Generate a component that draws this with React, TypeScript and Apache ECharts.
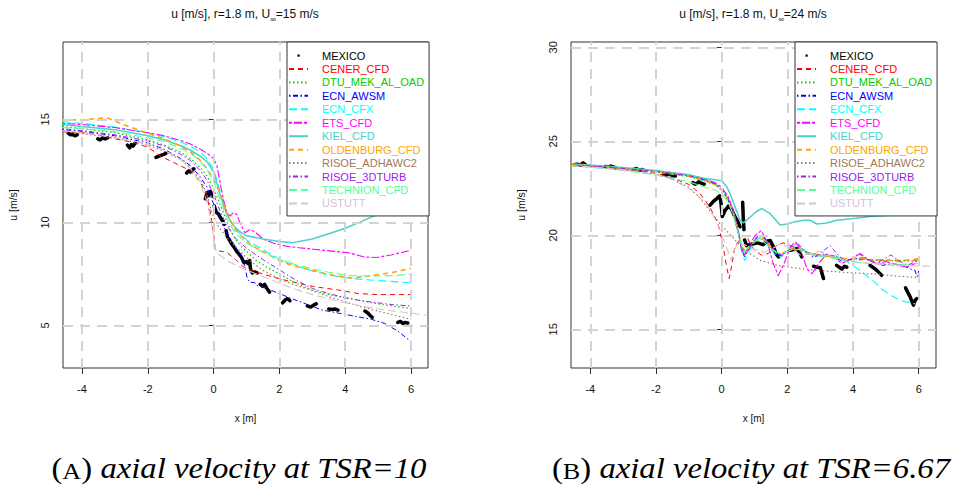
import React, { useEffect, useRef } from 'react';
import * as echarts from 'echarts';

// ---------------- axis ticks ----------------
const X_TICKS = [-4, -2, 0, 2, 4, 6];
const Y_TICKS_L = [5, 10, 15];
const Y_TICKS_R = [15, 20, 25, 30];

// ---------------- series names ----------------
const MODEL_NAMES = [
  'CENER_CFD', 'DTU_MEK_AL_OAD', 'ECN_AWSM', 'ECN_CFX', 'ETS_CFD', 'KIEL_CFD',
  'OLDENBURG_CFD', 'RISOE_ADHAWC2', 'RISOE_3DTURB', 'TECHNION_CFD', 'USTUTT',
];

// ---------------- left panel: TSR=10, U∞=15 m/s ----------------
const mexicoL = [
  [[-4.42, 14.32], [-4.35, 14.25], [-4.3, 14.28], [-4.22, 14.2], [-4.15, 14.25]],
  [[-3.52, 14.05], [-3.45, 14.0], [-3.38, 14.1], [-3.3, 14.05], [-3.22, 14.1]],
  [[-2.62, 13.75], [-2.55, 13.62], [-2.5, 13.78], [-2.45, 13.7], [-2.38, 13.85]],
  [[-1.75, 13.15], [-1.68, 13.2], [-1.6, 13.25], [-1.52, 13.3], [-1.45, 13.35]],
  [[-0.82, 12.4], [-0.76, 12.5], [-0.7, 12.45], [-0.65, 12.55], [-0.6, 12.6]],
  [[-0.25, 11.15], [-0.2, 11.45], [-0.15, 11.3], [-0.1, 11.5], [-0.05, 11.4], [0, 11.25]],
  [[0.02, 10.8], [0.08, 10.5], [0.15, 10.4], [0.22, 10.2], [0.28, 10.05], [0.32, 9.9]],
  [[0.38, 9.6], [0.42, 9.3], [0.5, 9.1], [0.55, 8.95], [0.62, 8.8], [0.7, 8.6], [0.78, 8.45], [0.85, 8.3],
    [0.92, 8.05], [1.0, 8.1], [1.05, 8.0], [1.1, 8.15], [1.12, 7.75], [1.18, 7.55], [1.25, 7.6], [1.32, 7.55]],
  [[1.42, 7.0], [1.5, 6.9], [1.55, 7.0], [1.62, 6.8], [1.7, 6.62]],
  [[2.1, 6.1], [2.18, 6.25], [2.25, 6.3], [2.32, 6.2]],
  [[2.85, 5.95], [2.95, 5.9], [3.05, 6.0], [3.12, 6.05]],
  [[3.5, 5.8], [3.6, 5.78], [3.7, 5.8], [3.78, 5.75]],
  [[4.6, 5.7], [4.68, 5.62], [4.75, 5.5], [4.82, 5.4]],
  [[5.6, 5.15], [5.68, 5.2], [5.75, 5.1], [5.82, 5.15], [5.9, 5.12]],
];
const cenerL = [[-4.6, 14.4], [-4, 14.35], [-3.5, 14.25], [-3, 14.05], [-2.5, 13.9], [-2, 13.65], [-1.6, 13.2], [-1.2, 12.9], [-0.7, 12.5], [-0.4, 11.95], [-0.2, 11.25], [-0.1, 10.5], [0, 9.5], [0.06, 8.65], [0.4, 8.55], [0.7, 8.15], [0.9, 7.85], [1.3, 7.6], [1.8, 7.35], [2.3, 7.15], [3, 6.9], [3.8, 6.72], [4.4, 6.55], [5, 6.5], [6, 6.5]];
const dtuL = [[-4.6, 14.65], [-4, 14.55], [-3, 14.35], [-2, 14.0], [-1.5, 13.75], [-1, 13.4], [-0.7, 13.1], [-0.4, 12.65], [-0.2, 12.25], [0, 11.65], [0.2, 10.85], [0.4, 10.05], [0.6, 9.35], [0.8, 8.9], [1, 8.6], [1.3, 8.15], [1.6, 7.85], [2, 7.5], [2.5, 7.05], [3, 6.72], [3.5, 6.5], [4, 6.35], [4.5, 6.2], [5, 6.05], [5.5, 5.93], [6, 5.82]];
const awsmL = [[-4.6, 14.5], [-4, 14.42], [-3, 14.2], [-2, 13.85], [-1.5, 13.55], [-1, 13.1], [-0.7, 12.75], [-0.4, 12.2], [-0.2, 11.7], [0, 10.9], [0.2, 10.15], [0.4, 9.5], [0.65, 8.85], [0.85, 8.37], [0.95, 7.9], [1.02, 7.3], [1.1, 7.1], [1.25, 7.08], [1.3, 6.95], [1.6, 6.8], [2, 6.55], [2.3, 6.35], [2.8, 6.05], [3.3, 5.75], [3.8, 5.6], [4.3, 5.45], [4.8, 5.3], [5.2, 5.1], [5.6, 4.73], [6, 4.22]];
const cfxL = [[-4.6, 14.88], [-4, 14.8], [-3, 14.62], [-2, 14.35], [-1.5, 14.15], [-1, 13.9], [-0.7, 13.7], [-0.4, 13.4], [-0.2, 13.1], [0, 12.6], [0.2, 11.5], [0.4, 10.4], [0.65, 9.7], [1, 9.15], [1.5, 8.68], [2, 8.22], [2.5, 7.9], [3, 7.65], [3.5, 7.45], [4, 7.32], [4.5, 7.24], [5, 7.18], [5.5, 7.13], [6, 7.07]];
const etsL = [[-4.6, 14.8], [-4, 14.75], [-3, 14.6], [-2, 14.35], [-1.5, 14.2], [-1, 13.97], [-0.7, 13.8], [-0.4, 13.55], [-0.2, 13.35], [0, 13.1], [0.1, 12.75], [0.2, 11.9], [0.3, 11.1], [0.4, 10.5], [0.5, 10.3], [0.6, 10.47], [0.7, 10.4], [0.8, 10.0], [0.95, 9.5], [1.1, 9.66], [1.25, 9.55], [1.5, 9.2], [1.8, 9.0], [2.2, 8.85], [2.6, 8.77], [3.1, 8.69], [3.6, 8.61], [4.1, 8.53], [4.6, 8.32], [4.95, 8.3], [5.4, 8.42], [6, 8.65]];
const kielL = [[-4.6, 14.75], [-4, 14.65], [-3, 14.5], [-2, 14.2], [-1.5, 14.0], [-1, 13.72], [-0.7, 13.5], [-0.4, 13.2], [-0.2, 12.95], [0, 12.45], [0.2, 11.35], [0.4, 10.4], [0.6, 9.85], [0.8, 9.55], [1, 9.35], [1.5, 9.2], [2, 9.08], [2.4, 9.02], [3, 9.2], [3.5, 9.45], [4, 9.72], [4.5, 10.05], [5, 10.4], [5.5, 10.75], [6, 11.1]];
const oldL = [[-4.6, 14.95], [-4, 14.98], [-3.6, 15.03], [-3.25, 15.08], [-3, 14.92], [-2.7, 14.72], [-2.3, 14.5], [-2, 14.32], [-1.5, 14.05], [-1, 13.7], [-0.7, 13.42], [-0.4, 13.0], [-0.2, 12.6], [0, 12.1], [0.2, 11.4], [0.35, 10.6], [0.65, 9.66], [1.06, 9.0], [1.36, 8.69], [1.6, 8.5], [2, 8.15], [2.3, 7.96], [2.8, 7.75], [3.5, 7.48], [4, 7.33], [4.2, 7.31], [4.65, 7.39], [5.4, 7.56], [6, 7.77]];
const adhawcL = [[-4.6, 14.4], [-4, 14.3], [-3, 14.1], [-2, 13.75], [-1.5, 13.45], [-1, 13.05], [-0.7, 12.65], [-0.4, 12.05], [-0.2, 11.4], [-0.06, 10.5], [0.14, 9.82], [0.45, 9.17], [0.75, 8.69], [1.06, 8.2], [1.46, 7.72], [2, 7.25], [2.5, 6.95], [3, 6.7], [3.5, 6.4], [4, 6.15], [4.5, 5.9], [5, 5.7], [5.5, 5.5], [6, 5.3]];
const turbL = [[-4.6, 14.55], [-4, 14.45], [-3, 14.25], [-2, 13.95], [-1.5, 13.7], [-1, 13.3], [-0.7, 13.0], [-0.4, 12.5], [-0.2, 12.05], [0, 11.35], [0.2, 10.55], [0.4, 9.85], [0.65, 9.25], [1, 8.75], [1.5, 8.2], [2, 7.7], [2.5, 7.2], [3, 6.8], [3.5, 6.55], [4, 6.35], [4.5, 6.2], [5, 6.1], [5.5, 6.0], [6, 5.95]];
const technionL = [[-4.6, 14.6], [-4, 14.55], [-3, 14.4], [-2, 14.1], [-1.5, 13.9], [-1, 13.6], [-0.7, 13.35], [-0.4, 12.95], [-0.2, 12.55], [0, 12.0], [0.2, 11.1], [0.4, 10.2], [0.65, 9.5], [1, 9.0], [1.5, 8.55], [2, 8.2], [2.5, 7.95], [3, 7.75], [3.5, 7.58], [4, 7.45], [4.5, 7.4], [5, 7.4], [5.5, 7.42], [6, 7.5]];
const ustuttL = [[-4.6, 14.45], [-4, 14.35], [-3, 14.15], [-2, 13.8], [-1.5, 13.5], [-1, 13.05], [-0.7, 12.6], [-0.4, 11.9], [-0.2, 11.0], [-0.05, 9.8], [0.08, 8.55], [0.45, 8.1], [0.95, 7.72], [1.46, 7.4], [2, 7.05], [2.5, 6.75], [3, 6.5], [3.5, 6.3], [4, 6.1], [4.5, 5.95], [5, 5.8], [5.5, 5.7], [6, 5.6], [6.5, 5.5]];

// ---------------- right panel: TSR=6.67, U∞=24 m/s ----------------
const mexicoR = [
  [[-4.5, 23.75], [-4.4, 23.78], [-4.3, 23.74], [-4.22, 23.85], [-4.15, 23.76]],
  [[-3.54, 23.66], [-3.45, 23.62], [-3.38, 23.68], [-3.3, 23.64], [-3.24, 23.6]],
  [[-2.68, 23.5], [-2.6, 23.55], [-2.5, 23.46], [-2.42, 23.5], [-2.33, 23.42]],
  [[-1.77, 23.25], [-1.68, 23.2], [-1.6, 23.28], [-1.5, 23.18], [-1.41, 23.15]],
  [[-0.88, 22.8], [-0.8, 22.72], [-0.7, 22.84], [-0.6, 22.75], [-0.53, 22.72]],
  [[-0.35, 21.6], [-0.25, 21.8], [-0.15, 21.95], [-0.06, 22.1], [-0.02, 21.7], [0.02, 21.0], [0.1, 21.3], [0.2, 21.55], [0.3, 21.4], [0.4, 21.0], [0.5, 20.7], [0.56, 20.45]],
  [[0.64, 21.75], [0.65, 21.3], [0.66, 20.8], [0.68, 20.3]],
  [[0.7, 19.75], [0.76, 19.45], [0.86, 19.5], [0.97, 19.55], [1.1, 19.6], [1.26, 19.5], [1.4, 19.7], [1.48, 19.72], [1.58, 19.38], [1.66, 19.0], [1.73, 18.85]],
  [[2.09, 19.2], [2.2, 19.25], [2.3, 19.3], [2.38, 19.05], [2.44, 18.85]],
  [[2.8, 18.35], [2.9, 18.3], [3.0, 18.28], [3.05, 18.0], [3.1, 17.7]],
  [[3.5, 18.4], [3.58, 18.3], [3.66, 18.2], [3.74, 18.35], [3.81, 18.3]],
  [[4.52, 18.4], [4.6, 18.3], [4.72, 18.14], [4.8, 18.0], [4.87, 17.87]],
  [[5.6, 17.2], [5.67, 16.95], [5.74, 16.72], [5.8, 16.45], [5.84, 16.28], [5.89, 16.54], [5.94, 16.63]],
];
const cenerR = [[-4.6, 23.7], [-4, 23.65], [-3, 23.5], [-2, 23.3], [-1.5, 23.05], [-1, 22.7], [-0.66, 22.22], [-0.36, 21.51], [-0.11, 20.62], [0.05, 19.38], [0.15, 18.32], [0.23, 17.7], [0.3, 18.32], [0.4, 19.38], [0.6, 19.91], [0.76, 20.0], [0.86, 19.56], [1.01, 19.2], [1.21, 18.94], [1.42, 19.03], [1.62, 19.4], [1.87, 19.6], [2.07, 19.47], [2.38, 19.2], [2.79, 19.02], [3.29, 18.85], [3.8, 18.7], [4.41, 18.7], [5.02, 18.67], [5.83, 18.67], [6, 18.68]];
const dtuR = [[-4.6, 23.7], [-4, 23.66], [-3, 23.52], [-2, 23.36], [-1, 23.12], [-0.5, 22.88], [-0.2, 22.68], [0, 22.4], [0.2, 21.85], [0.35, 21.1], [0.5, 20.1], [0.6, 19.4], [0.7, 19.0], [0.85, 19.35], [1.05, 19.8], [1.25, 19.85], [1.45, 19.45], [1.65, 19.05], [1.85, 19.0], [2.1, 19.2], [2.35, 19.35], [2.6, 19.1], [2.9, 18.95], [3.2, 18.95], [3.5, 18.85], [3.8, 18.7], [4.1, 18.75], [4.5, 18.7], [5.0, 18.65], [5.5, 18.65], [6.0, 18.6]];
const awsmR = [[-4.6, 23.74], [-4, 23.7], [-3, 23.56], [-2, 23.4], [-1, 23.16], [-0.5, 22.93], [-0.2, 22.72], [0, 22.45], [0.2, 21.9], [0.35, 21.2], [0.5, 20.2], [0.6, 19.3], [0.7, 18.85], [0.85, 19.3], [1.05, 19.85], [1.25, 19.95], [1.45, 19.5], [1.65, 19.0], [1.85, 18.9], [2.05, 19.25], [2.3, 19.5], [2.55, 19.1], [2.8, 18.85], [3.1, 19.0], [3.4, 18.85], [3.7, 18.6], [4.0, 18.75], [4.3, 18.8], [4.6, 18.6], [4.9, 18.4], [5.2, 18.5], [5.5, 18.4], [5.75, 18.2], [5.88, 18.15], [5.95, 17.8], [6.0, 18.1]];
const cfxR = [[-4.6, 23.78], [-4, 23.72], [-3, 23.58], [-2, 23.42], [-1, 23.18], [-0.5, 22.95], [-0.2, 22.75], [0, 22.5], [0.2, 22.0], [0.35, 21.3], [0.5, 20.3], [0.6, 19.2], [0.7, 18.65], [0.8, 19.0], [1.0, 19.7], [1.2, 19.9], [1.4, 19.6], [1.6, 19.0], [1.8, 18.85], [2.0, 19.2], [2.3, 19.45], [2.6, 19.1], [2.9, 18.85], [3.2, 18.95], [3.5, 18.9], [3.8, 18.6], [4.0, 18.4], [4.3, 18.0], [4.6, 17.6], [4.9, 17.1], [5.2, 16.75], [5.5, 16.5], [5.9, 16.35]];
const etsR = [[-4.6, 23.72], [-4, 23.68], [-3, 23.55], [-2, 23.42], [-1, 23.2], [-0.5, 22.98], [-0.2, 22.8], [0, 22.55], [0.2, 22.05], [0.35, 21.35], [0.5, 20.3], [0.6, 19.3], [0.68, 18.9], [0.8, 19.3], [1.0, 19.95], [1.2, 20.25], [1.4, 19.6], [1.55, 18.6], [1.72, 17.85], [1.9, 18.5], [2.1, 19.4], [2.25, 19.65], [2.45, 19.0], [2.6, 18.2], [2.75, 17.95], [2.95, 18.5], [3.2, 19.0], [3.4, 18.9], [3.65, 18.5], [3.9, 18.7], [4.2, 19.0], [4.45, 18.7], [4.7, 18.5], [5.0, 18.6], [5.3, 18.45], [5.6, 18.3], [5.9, 18.5]];
const kielR = [[-4.6, 23.8], [-4, 23.74], [-3, 23.6], [-2, 23.45], [-1, 23.22], [-0.5, 23.02], [-0.2, 22.95], [0, 22.9], [0.15, 22.6], [0.26, 22.2], [0.41, 21.5], [0.56, 20.8], [0.66, 20.66], [0.87, 20.97], [1.05, 21.25], [1.22, 21.42], [1.48, 21.15], [1.78, 20.55], [2.0, 20.6], [2.19, 20.7], [2.5, 20.8], [2.69, 20.8], [2.9, 20.6], [3.2, 20.65], [3.5, 20.8], [4.1, 20.9], [4.5, 21.0], [5, 21.05], [6, 21.1]];
const oldR = [[-4.6, 23.76], [-4, 23.7], [-3, 23.55], [-2, 23.38], [-1, 23.14], [-0.5, 22.9], [-0.2, 22.7], [0, 22.42], [0.2, 21.9], [0.35, 21.2], [0.5, 20.2], [0.6, 19.5], [0.7, 19.1], [0.85, 19.4], [1.05, 19.75], [1.25, 19.8], [1.45, 19.45], [1.65, 19.1], [1.85, 19.05], [2.1, 19.25], [2.35, 19.3], [2.6, 19.05], [2.9, 18.95], [3.2, 18.9], [3.5, 18.8], [3.8, 18.75], [4.2, 18.8], [4.6, 18.65], [5.0, 18.7], [5.4, 18.6], [5.8, 18.7], [6.0, 18.76]];
const adhawcR = [[-4.6, 23.72], [-4, 23.66], [-3, 23.5], [-2, 23.25], [-1.5, 23.0], [-1, 22.55], [-0.66, 22.0], [-0.36, 21.3], [-0.04, 20.6], [0.3, 19.95], [0.7, 19.2], [1.2, 18.65], [1.7, 18.4], [2.3, 18.25], [3.0, 18.12], [3.8, 18.02], [4.8, 17.92], [5.4, 17.82], [6, 17.75]];
const turbR = [[-4.6, 23.74], [-4, 23.69], [-3, 23.56], [-2, 23.4], [-1, 23.17], [-0.5, 22.94], [-0.2, 22.74], [0, 22.48], [0.2, 21.95], [0.35, 21.25], [0.5, 20.25], [0.6, 19.4], [0.7, 18.95], [0.85, 19.35], [1.05, 19.9], [1.25, 20.0], [1.45, 19.55], [1.65, 19.0], [1.85, 18.95], [2.05, 19.3], [2.3, 19.6], [2.55, 19.15], [2.8, 18.8], [3.05, 19.1], [3.3, 19.45], [3.55, 18.95], [3.8, 18.6], [4.0, 18.8], [4.2, 19.05], [4.45, 18.75], [4.7, 18.5], [4.95, 18.75], [5.15, 18.95], [5.4, 18.65], [5.65, 18.4], [5.85, 18.55], [6.0, 18.65]];
const technionR = [[-4.6, 23.68], [-4, 23.62], [-3, 23.45], [-2, 23.2], [-1, 22.85], [-0.5, 22.55], [-0.2, 22.4], [0, 22.2], [0.2, 21.75], [0.35, 21.1], [0.5, 20.15], [0.6, 19.5], [0.7, 19.15], [0.85, 19.45], [1.05, 19.7], [1.25, 19.7], [1.45, 19.4], [1.65, 19.1], [1.85, 19.05], [2.1, 19.2], [2.35, 19.25], [2.6, 19.05], [2.9, 18.9], [3.2, 18.85], [3.5, 18.75], [3.8, 18.6], [4.2, 18.55], [4.6, 18.5], [5.0, 18.5], [5.5, 18.45], [6.0, 18.5]];
const ustuttR = [[-4.6, 23.7], [-4, 23.64], [-3, 23.48], [-2, 23.25], [-1.5, 22.95], [-1, 22.5], [-0.66, 22.0], [-0.36, 21.4], [-0.1, 20.5], [0.1, 19.6], [0.25, 18.9], [0.3, 18.65], [0.35, 19.1], [0.5, 19.6], [0.7, 19.5], [1.0, 19.25], [1.3, 19.1], [1.6, 19.35], [1.8, 19.55], [2.1, 19.3], [2.4, 18.95], [2.7, 19.0], [3.0, 19.15], [3.3, 18.9], [3.6, 18.75], [4.0, 18.6], [4.5, 18.5], [5.0, 18.42], [5.5, 18.38], [6.0, 18.36], [6.5, 18.35]];

const modelsL = [cenerL, dtuL, awsmL, cfxL, etsL, kielL, oldL, adhawcL, turbL, technionL, ustuttL];
const modelsR = [cenerR, dtuR, awsmR, cfxR, etsR, kielR, oldR, adhawcR, turbR, technionR, ustuttR];

// ---------------- styles ----------------
const FONT = "'Liberation Sans', Arial, Helvetica, sans-serif";
const SERIF = "'Liberation Serif', 'Times New Roman', serif";
const MODEL_STYLE: { color: string; dash: any; width: number }[] = [
  { color: '#FF0000', dash: [5, 4], width: 1 },
  { color: '#00CD00', dash: [1.5, 2.5], width: 1.2 },
  { color: '#0000FF', dash: [1.5, 2.5, 5, 2.5], width: 1 },
  { color: '#00FFFF', dash: [8, 4], width: 1.1 },
  { color: '#FF00FF', dash: [3, 2, 8, 2], width: 1.1 },
  { color: '#48D1CC', dash: 'solid', width: 1.5 },
  { color: '#FFA500', dash: [5, 4], width: 1.6 },
  { color: '#A0785A', dash: [1.5, 2.5], width: 1.2 },
  { color: '#A020F0', dash: [1.5, 2.5, 5, 2.5], width: 1 },
  { color: '#54FF9F', dash: [8, 4], width: 1.1 },
  { color: '#D8BFD8', dash: [8, 4], width: 1.1 },
];
const MEX_ICON = 'path://M0,0M19,11M8.5,4.5h2.2v2.2h-2.2z';

function buildPanelSeries(idx: number, mexico: number[][][], models: number[][][], yTicks: number[]) {
  const mex: any[] = [];
  mexico.forEach((c, i) => {
    if (i > 0) mex.push([c[0][0], null]);
    c.forEach((p) => mex.push(p));
  });
  const out: any[] = [];
  out.push({
    type: 'line', name: '__grid' + idx, xAxisIndex: idx, yAxisIndex: idx, data: [], z: 1, silent: true,
    markLine: {
      silent: true, symbol: 'none', label: { show: false }, animation: false,
      lineStyle: { color: '#D3D3D3', type: [10, 7], width: 2 },
      emphasis: { disabled: true },
      data: [...X_TICKS.map((v) => ({ xAxis: v })), ...yTicks.map((v) => ({ yAxis: v }))],
    },
  });
  out.push({
    type: 'line', name: 'MEXICO', xAxisIndex: idx, yAxisIndex: idx, data: mex, symbol: 'none',
    connectNulls: false, silent: true, z: 3,
    lineStyle: { color: '#000', width: 3.5, cap: 'round', join: 'round' }, itemStyle: { color: '#000' },
  });
  models.forEach((d, k) => {
    const st = MODEL_STYLE[k];
    out.push({
      type: 'line', name: MODEL_NAMES[k], xAxisIndex: idx, yAxisIndex: idx, data: d, symbol: 'none',
      silent: true, z: 4,
      lineStyle: { color: st.color, width: st.width, type: st.dash }, itemStyle: { color: st.color },
    });
  });
  return out;
}

function buildLegend(left: number) {
  return {
    z: 20, zlevel: 0,
    orient: 'vertical', left, top: 42, padding: [8, 5, 7, 1], itemWidth: 19, itemHeight: 11, itemGap: 2.45,
    backgroundColor: '#fff', borderColor: '#333', borderWidth: 1, borderRadius: 0, selectedMode: false,
    itemStyle: { opacity: 0, color: 'rgba(0,0,0,0)', borderWidth: 0 },
    textStyle: { fontFamily: FONT, fontSize: 11, lineHeight: 11, padding: [0, 0, 0, 9] },
    data: [
      { name: 'MEXICO', icon: MEX_ICON, itemStyle: { opacity: 1, color: '#000' }, textStyle: { color: '#000' } },
      ...MODEL_NAMES.map((n, k) => ({ name: n, textStyle: { color: MODEL_STYLE[k].color } })),
    ],
  };
}

function buildAxes(idx: number, yMin: number, yMax: number, yTicks: number[], xMin: number, xMax: number) {
  const x = {
    type: 'value', gridIndex: idx, min: xMin, max: xMax, name: 'x [m]', nameLocation: 'middle', nameGap: 45,
    nameTextStyle: { fontFamily: FONT, fontSize: 10, color: '#111' },
    axisLine: { show: false }, splitLine: { show: false },
    axisTick: { show: true, length: 6, lineStyle: { color: '#333' }, customValues: X_TICKS },
    axisLabel: { customValues: X_TICKS, margin: 15, fontFamily: FONT, fontSize: 11, color: '#111' },
  };
  const y = {
    type: 'value', gridIndex: idx, min: yMin, max: yMax, name: 'u [m/s]', nameLocation: 'middle', nameGap: 45,
    nameRotate: 90, nameTextStyle: { fontFamily: FONT, fontSize: 10.5, color: '#111' },
    axisLine: { show: false }, splitLine: { show: false },
    axisTick: { show: true, length: 6, lineStyle: { color: '#333' }, customValues: yTicks },
    axisLabel: { customValues: yTicks, margin: 13, rotate: 90, fontFamily: FONT, fontSize: 11, color: '#111' },
  };
  return { x, y };
}

function titleText(x: number, u: string) {
  return {
    type: 'text', x, y: 13, z: 10,
    style: {
      text: `{a|u [m/s], r=1.8 m, U}{b|∞}{a|=${u} m/s}`,
      align: 'center', verticalAlign: 'middle', fill: '#111',
      font: `12px ${FONT}`,
      rich: {
        a: { fontFamily: FONT, fontSize: 12, fill: '#111', verticalAlign: 'bottom', lineHeight: 14 },
        b: { fontFamily: FONT, fontSize: 8, fill: '#111', verticalAlign: 'bottom', lineHeight: 14, padding: [0, 0, -3, 0] },
      },
    },
  };
}

function captionText(x: number, letter: string, rest: string) {
  return {
    type: 'text', x, y: 466, scaleX: 1.09, z: 10,
    style: {
      text: `{p|(}{s|${letter}}{p|)} {i|${rest}}`,
      align: 'center', verticalAlign: 'middle', fill: '#000',
      font: `30px ${SERIF}`,
      rich: {
        p: { fontFamily: SERIF, fontSize: 30, fill: '#000', verticalAlign: 'bottom', lineHeight: 34 },
        s: { fontFamily: SERIF, fontSize: 24, fill: '#000', verticalAlign: 'bottom', lineHeight: 34 },
        i: { fontFamily: SERIF, fontSize: 30, fontStyle: 'italic', fill: '#000', verticalAlign: 'bottom', lineHeight: 34 },
      },
    },
  };
}

export default function App() {
  const ref = useRef<HTMLDivElement>(null);
  useEffect(() => {
    document.body.style.margin = '0';
    if (!ref.current) return;
    const chart = echarts.init(ref.current, undefined, { renderer: 'svg' });
    const axL = buildAxes(0, 2.94, 18.75, Y_TICKS_L, -4.578, 6.517);
    const axR = buildAxes(1, 12.94, 30.28, Y_TICKS_R, -4.587, 6.526);
    chart.setOption({
      animation: false,
      backgroundColor: '#fff',
      grid: [
        { left: 63, top: 42, width: 365, height: 326, show: true, borderColor: '#333', borderWidth: 1, backgroundColor: 'transparent' },
        { left: 571, top: 42, width: 365, height: 326, show: true, borderColor: '#333', borderWidth: 1, backgroundColor: 'transparent' },
      ],
      xAxis: [axL.x, axR.x],
      yAxis: [axL.y, axR.y],
      legend: [buildLegend(287), buildLegend(795)],
      series: [...buildPanelSeries(0, mexicoL, modelsL, Y_TICKS_L), ...buildPanelSeries(1, mexicoR, modelsR, Y_TICKS_R)],
      graphic: [
        titleText(245, '15'),
        titleText(753, '24'),
        captionText(239, 'A', 'axial velocity at TSR=10'),
        captionText(751, 'B', 'axial velocity at TSR=6.67'),
      ],
    });
    return () => chart.dispose();
  }, []);
  return <div ref={ref} style={{ width: 954, height: 492 }} />;
}
